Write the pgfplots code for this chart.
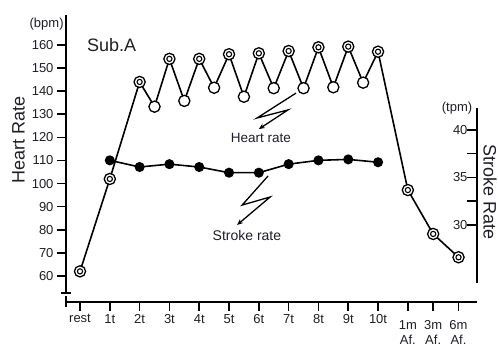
\documentclass[border=0pt]{standalone}
\usepackage{pgfplots}
\pgfplotsset{compat=1.18}
\usetikzlibrary{arrows.meta}
\usepackage{fontspec}
\setmainfont{Liberation Sans}
\definecolor{txt}{HTML}{1E1E28}
\begin{document}
\begin{tikzpicture}
\useasboundingbox (0pt,0pt) rectangle (498pt,347pt);
\pgfplotsset{
  common/.style={
    at={(66pt,45pt)}, anchor=south west, scale only axis, width=411pt, height=287pt,
    xmin=-0.47, xmax=13.32, clip=false,
    /pgf/number format/assume math mode=true,
    ticklabel style={font=\fontsize{13}{13}\selectfont, text=txt},
    tick style={black, line width=1.6pt},
  }
}
\begin{axis}[common,
  ymin=48.74, ymax=172.99,
  axis x line*=bottom, axis y line*=left,
  x axis line style={-, line width=1.8pt},
  y axis line style={-, line width=1.8pt, shorten <=9pt},
  tick align=outside, major tick length=9pt,
  xtick={0,1,2,3,4,5,6,7,8,9,10,11,11.85,12.7},
  xticklabels={rest,1t,2t,3t,4t,5t,6t,7t,8t,9t,10t,{\rule{0pt}{15pt}1m\\Af.},{\rule{0pt}{15pt}3m\\Af.},{\rule{0pt}{15pt}6m\\Af.}},
  xticklabel style={align=center, font=\fontsize{13}{14.5}\selectfont},
  ytick={60,70,80,90,100,110,120,130,140,150,160},
  extra x ticks={-0.47}, extra x tick labels={}, extra x tick style={tick align=center, major tick length=11pt},
  extra y ticks={52.64}, extra y tick labels={}, extra y tick style={tick align=center, major tick length=9pt},
  ylabel={Heart Rate},
  ylabel style={at={(axis description cs:-0.1156,0.5645)}, anchor=center, font=\fontsize{18}{18}\selectfont, text=txt},
]
\addplot[line width=1.6pt, black] coordinates {
(0,62) (1,102) (2,144) (2.5,133.3) (3,154) (3.5,135.8) (4,154) (4.5,141.5)
(5,156) (5.5,137.6) (6,156.4) (6.5,141.3) (7,157.4) (7.5,141.3) (8,159)
(8.5,141.7) (9,159.3) (9.5,143.7) (10,157.1) (11,97.2) (11.85,78.2) (12.7,68.1)};
\addplot[only marks, mark=*, mark size=5.6pt, mark options={fill=white, draw=black, line width=1.3pt}] coordinates {
(2.5,133.3) (3.5,135.8) (4.5,141.5) (5.5,137.6) (6.5,141.3) (7.5,141.3) (8.5,141.7) (9.5,143.7)};
\addplot[only marks, mark=*, mark size=5.6pt, mark options={fill=white, draw=black, line width=1.3pt}] coordinates {
(0,62) (1,102) (2,144) (3,154) (4,154) (5,156) (6,156.4) (7,157.4) (8,159) (9,159.3) (10,157.1) (11,97.2) (11.85,78.2) (12.7,68.1)};
\addplot[only marks, mark=o, mark size=2.6pt, mark options={draw=black, line width=1.1pt}] coordinates {
(0,62) (1,102) (2,144) (3,154) (4,154) (5,156) (6,156.4) (7,157.4) (8,159) (9,159.3) (10,157.1) (11,97.2) (11.85,78.2) (12.7,68.1)};
\draw[line width=1.3pt, -{Stealth[length=6pt,width=5pt]}] (axis cs:7.25,139.2) -- (axis cs:5.94,128.4) -- (axis cs:6.98,131.9) -- (axis cs:6.0,123.6);
\node[font=\fontsize{13.5}{13.5}\selectfont, text=txt] at (axis cs:6.07,119.7) {Heart rate};
\draw[line width=1.3pt, -{Stealth[length=6pt,width=5pt]}] (axis cs:6.31,103.3) -- (axis cs:5.44,90.7) -- (axis cs:6.38,94.2) -- (axis cs:5.27,82.1);
\node[font=\fontsize{14}{14}\selectfont, text=txt] at (axis cs:5.6,77.7) {Stroke rate};
\node[font=\fontsize{18}{18}\selectfont, text=txt, anchor=west, inner sep=0pt] at (axis cs:0.235,160) {Sub.A};
\node[font=\fontsize{13}{13}\selectfont, text=txt] at (axis cs:-1.12,169.1) {(bpm)};
\end{axis}
\begin{axis}[common,
  ymin=21.89, ymax=52.1,
  axis x line=none, axis y line*=right,
  y axis line style={-, line width=1.8pt, shorten <=19pt, shorten >=93pt},
  ytick={30,35,40}, minor ytick={32.5,37.5},
  tick align=inside, major tick length=10pt, minor tick length=10pt,
  yticklabel style={anchor=east, xshift=-6pt},
  ylabel={Stroke Rate},
  ylabel style={at={(axis description cs:1.0316,0.383)}, anchor=center, rotate=180, font=\fontsize{18}{18}\selectfont, text=txt},
]
\addplot[line width=1.6pt, black, mark=*, mark size=4.2pt, mark options={fill=black}] coordinates {
(1,36.8) (2,36.1) (3,36.4) (4,36.1) (5,35.5) (6,35.5) (7,36.4) (8,36.8) (9,36.9) (10,36.6)};
\node[font=\fontsize{13}{13}\selectfont, text=txt] at (axis cs:12.65,42.3) {(tpm)};
\end{axis}
\end{tikzpicture}
\end{document}
